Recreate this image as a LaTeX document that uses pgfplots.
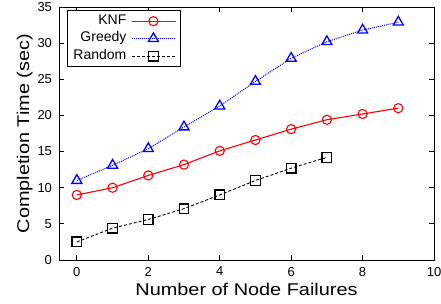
\documentclass[border=0pt]{standalone}
\usepackage{pgfplots}
\pgfplotsset{compat=1.18}
\usepackage{fontspec}
\setmainfont{Liberation Sans}
\newfontfamily\labfont[FakeStretch=1.17]{Liberation Sans}
\newcommand{\lf}{\fontsize{14}{15}\selectfont}
\begin{document}
\begin{tikzpicture}
\begin{axis}[
  scale only axis,
  width=375pt, height=253pt,
  xmin=-0.5, xmax=10, ymin=0, ymax=35,
  xtick={0,2,4,6,8,10},
  ytick={0,5,10,15,20,25,30,35},
  tick align=inside,
  major tick length=5pt,
  axis line style={line width=0.9pt},
  tick style={line width=0.8pt, black},
  /pgf/number format/assume math mode=true,
  tick label style={font=\fontsize{13}{13}\selectfont},
  xticklabel style={yshift=-3.5pt},
  yticklabel style={xshift=-3.5pt},
  xlabel={Number of Node Failures},
  ylabel={Completion Time (sec)},
  label style={font=\labfont\fontsize{17}{17}\selectfont},
  ylabel style={yshift=-2pt},
  legend plot pos=right,
  legend cell align=right,
  legend style={at={(0,1)}, anchor=north west, xshift=8pt, yshift=-3pt,
    draw=black, line width=0.9pt,
    nodes={inner xsep=2.5pt, inner ysep=2.5pt, text height=9.5pt, text depth=3pt},
    row sep=0pt, column sep=3pt, inner xsep=3.5pt, inner ysep=2pt},
  legend image code/.code={\path (0pt,0pt) -- (44pt,0pt);\draw[mark repeat=2,mark phase=2] plot coordinates {(0pt,0pt) (21pt,0pt) (42pt,0pt)};},
]
\addplot[color=red, line width=1.1pt, mark=o, mark size=4.6pt, mark options={solid, line width=1.1pt}]
coordinates {(0,9.0) (1,10.0) (2,11.7) (3,13.2) (4,15.1) (5,16.6) (6,18.1) (7,19.4) (8,20.2) (9,21.0)};
\addlegendentry{\lf KNF}
\addplot[color=blue, line width=1pt, densely dotted, mark=triangle, mark size=5.8pt, mark options={solid, line width=1.3pt}]
coordinates {(0,11.0) (1,13.1) (2,15.4) (3,18.4) (4,21.3) (5,24.7) (6,27.9) (7,30.2) (8,31.8) (9,32.9)};
\addlegendentry{\lf Greedy}
\addplot[color=black, line width=0.9pt, densely dashed, mark=square, mark size=4.8pt, mark options={solid, line width=1.3pt}]
coordinates {(0,2.5) (1,4.4) (2,5.6) (3,7.1) (4,9.0) (5,11.0) (6,12.7) (7,14.2)};
\addlegendentry{\lf Random}
\end{axis}
\pgfresetboundingbox
\path[use as bounding box] ([xshift=-59pt,yshift=-44pt]current axis.south west) rectangle ([xshift=7pt,yshift=7pt]current axis.north east);
\end{tikzpicture}
\end{document}
